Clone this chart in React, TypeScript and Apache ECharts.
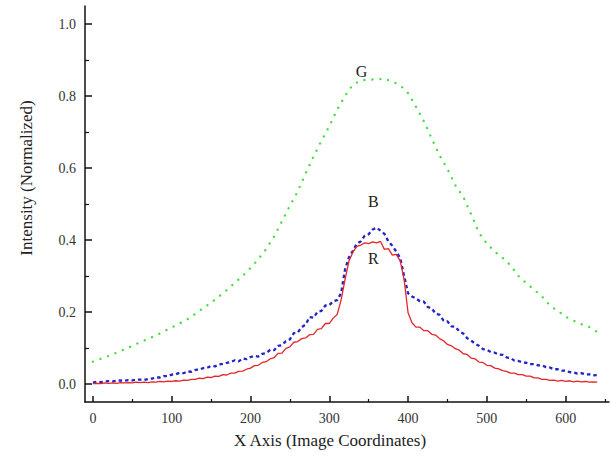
import React, { useEffect, useRef } from "react";
import * as echarts from "echarts";

const xBR: number[] = [];
for (let i = 0; i <= 128; i++) xBR.push(i * 5);

const blueValues = [
  0.004, 0.006, 0.005, 0.007, 0.008, 0.007, 0.009, 0.010, 0.009, 0.011, 0.010, 0.012, 0.012, 0.011, 0.014, 0.015,
  0.018, 0.018, 0.022, 0.022, 0.026, 0.027, 0.031, 0.030, 0.035, 0.034, 0.039, 0.040, 0.044, 0.045, 0.050, 0.049,
  0.054, 0.056, 0.059, 0.061, 0.066, 0.063, 0.071, 0.069, 0.075, 0.078, 0.076, 0.084, 0.086, 0.095, 0.094, 0.106,
  0.108, 0.119, 0.124, 0.141, 0.143, 0.158, 0.165, 0.186, 0.184, 0.200, 0.203, 0.218, 0.219, 0.230, 0.233, 0.252,
  0.318, 0.352, 0.370, 0.390, 0.396, 0.412, 0.416, 0.429, 0.434, 0.426, 0.417, 0.396, 0.384, 0.368, 0.350, 0.300,
  0.252, 0.243, 0.238, 0.230, 0.229, 0.214, 0.210, 0.196, 0.192, 0.176, 0.174, 0.160, 0.159, 0.146, 0.140, 0.127,
  0.121, 0.112, 0.106, 0.097, 0.095, 0.089, 0.087, 0.082, 0.081, 0.074, 0.072, 0.065, 0.064, 0.060, 0.059, 0.055,
  0.055, 0.052, 0.052, 0.047, 0.046, 0.041, 0.041, 0.037, 0.037, 0.033, 0.032, 0.029, 0.030, 0.027, 0.027, 0.024,
  0.025,
];

const redValues = [
  0.001, 0.002, 0.001, 0.003, 0.002, 0.003, 0.002, 0.004, 0.003, 0.004, 0.003, 0.005, 0.004, 0.005, 0.004, 0.006,
  0.005, 0.007, 0.006, 0.008, 0.007, 0.009, 0.008, 0.011, 0.010, 0.013, 0.013, 0.016, 0.015, 0.019, 0.018, 0.022,
  0.021, 0.026, 0.025, 0.030, 0.030, 0.035, 0.036, 0.041, 0.044, 0.051, 0.052, 0.060, 0.062, 0.070, 0.073, 0.085,
  0.086, 0.099, 0.103, 0.116, 0.118, 0.126, 0.128, 0.137, 0.138, 0.152, 0.154, 0.168, 0.168, 0.183, 0.193, 0.233,
  0.290, 0.342, 0.366, 0.382, 0.386, 0.392, 0.390, 0.395, 0.392, 0.396, 0.374, 0.376, 0.358, 0.360, 0.342, 0.290,
  0.198, 0.170, 0.158, 0.158, 0.148, 0.148, 0.138, 0.136, 0.126, 0.120, 0.110, 0.106, 0.098, 0.094, 0.084, 0.082,
  0.072, 0.070, 0.061, 0.060, 0.052, 0.051, 0.044, 0.042, 0.037, 0.035, 0.030, 0.030, 0.026, 0.026, 0.022, 0.022,
  0.017, 0.017, 0.013, 0.013, 0.010, 0.011, 0.008, 0.010, 0.007, 0.009, 0.006, 0.008, 0.006, 0.007, 0.005, 0.006,
  0.005,
];

const xGreen: number[] = [];
for (let i = 0; i <= 64; i++) xGreen.push(i * 10);

const greenValues = [
  0.062, 0.070, 0.078, 0.087, 0.096, 0.106, 0.116, 0.125, 0.135, 0.146, 0.157, 0.168, 0.180, 0.195, 0.211, 0.226,
  0.243, 0.261, 0.281, 0.300, 0.322, 0.347, 0.375, 0.410, 0.452, 0.495, 0.535, 0.585, 0.632, 0.675, 0.716, 0.762,
  0.800, 0.832, 0.843, 0.846, 0.846, 0.848, 0.840, 0.830, 0.808, 0.770, 0.730, 0.682, 0.635, 0.597, 0.552, 0.520,
  0.472, 0.420, 0.390, 0.368, 0.350, 0.330, 0.300, 0.280, 0.262, 0.243, 0.218, 0.203, 0.187, 0.176, 0.166, 0.158,
  0.145,
];

const xTicks = [0, 100, 200, 300, 400, 500, 600];
const yTicks = [0, 0.2, 0.4, 0.6, 0.8, 1.0];

const annotations = [
  { text: "G", x: 341, y: 0.867 },
  { text: "B", x: 356, y: 0.506 },
  { text: "R", x: 356, y: 0.35 },
];

const FONT = "'Liberation Serif', 'Times New Roman', serif";

export default function App() {
  const ref = useRef<HTMLDivElement>(null);
  useEffect(() => {
    if (!ref.current) return;
    const chart = echarts.init(ref.current, undefined, { renderer: "svg" });
    const pair = (xs: number[], ys: number[]) => ys.map((v, i) => [xs[i], v]);
    chart.setOption({
      animation: false,
      backgroundColor: "#ffffff",
      grid: { left: 85, right: 2, top: 6, bottom: 59, containLabel: false },
      xAxis: {
        type: "value",
        min: -10,
        max: 655,
        splitNumber: 6,
        axisLine: { show: true, onZero: false, lineStyle: { color: "#111", width: 1.5 } },
        axisTick: { show: true, inside: true, length: 6, customValues: xTicks, lineStyle: { color: "#111", width: 1.5 } },
        minorTick: { show: true, splitNumber: 2, length: 3, lineStyle: { color: "#111", width: 1.2 } },
        axisLabel: { customValues: xTicks, margin: 9, color: "#333", fontSize: 14, fontFamily: FONT },
        splitLine: { show: false },
      },
      yAxis: {
        type: "value",
        min: -0.05,
        max: 1.05,
        splitNumber: 5,
        axisLine: { show: true, onZero: false, lineStyle: { color: "#111", width: 1.5 } },
        axisTick: { show: true, inside: true, length: 7, customValues: yTicks, lineStyle: { color: "#111", width: 1.5 } },
        minorTick: { show: true, splitNumber: 2, length: 4, lineStyle: { color: "#111", width: 1.2 } },
        axisLabel: {
          customValues: yTicks,
          margin: 9,
          color: "#333",
          fontSize: 14,
          fontFamily: FONT,
          formatter: (v: number) => v.toFixed(1),
        },
        splitLine: { show: false },
      },
      series: [
        {
          name: "G",
          type: "line",
          data: pair(xGreen, greenValues),
          showSymbol: false,
          lineStyle: { color: "#45dd45", width: 2.4, type: [0.01, 8], cap: "round" },
        },
        {
          name: "B",
          type: "line",
          data: pair(xBR, blueValues),
          showSymbol: false,
          lineStyle: { color: "#2323c8", width: 2.3, type: [3.5, 3] },
        },
        {
          name: "R",
          type: "line",
          data: pair(xBR, redValues),
          showSymbol: false,
          lineStyle: { color: "#e3262a", width: 1.3 },
        },
      ],
    });
    const texts = annotations.map((a) => {
      const p = chart.convertToPixel({ gridIndex: 0 }, [a.x, a.y]) as number[];
      return {
        type: "text",
        x: p[0],
        y: p[1],
        style: { text: a.text, fontSize: 16, fontFamily: FONT, fill: "#222", align: "center", verticalAlign: "middle" },
      };
    });
    chart.setOption({
      graphic: [
        ...texts,
        {
          type: "text",
          x: 330,
          y: 440,
          style: { text: "X Axis (Image Coordinates)", fontSize: 17, fontFamily: FONT, fill: "#222", align: "center", verticalAlign: "middle" },
        },
        {
          type: "text",
          x: 26,
          y: 178,
          rotation: Math.PI / 2,
          style: { text: "Intensity (Normalized)", fontSize: 17, fontFamily: FONT, fill: "#222", align: "center", verticalAlign: "middle" },
        },
      ],
    });
    return () => chart.dispose();
  }, []);
  return <div ref={ref} style={{ width: 611, height: 461, position: "absolute", left: 0, top: 0 }} />;
}
